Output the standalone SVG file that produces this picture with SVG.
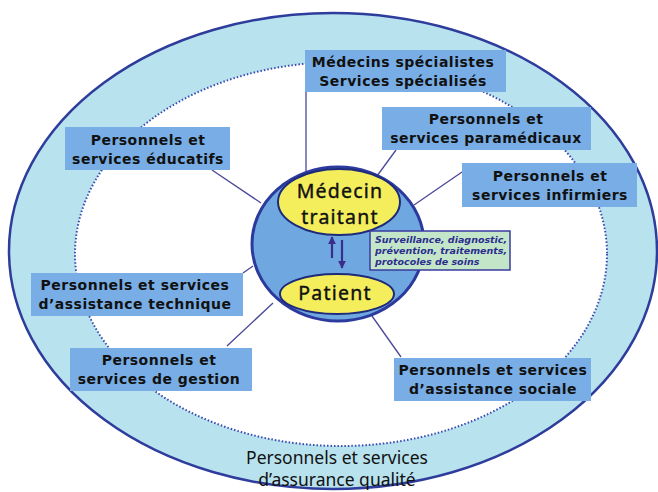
<svg xmlns="http://www.w3.org/2000/svg" width="658" height="492" viewBox="0 0 658 492">
<defs>
<style>
.box{fill:#78aee5;}
.bt{font-family:"DejaVu Sans",Verdana,sans-serif;font-weight:bold;font-size:14px;letter-spacing:0.5px;fill:#111;text-anchor:middle;}
.con{stroke:#4a4898;stroke-width:1.3;fill:none;}
.big{font-family:"Noto Sans","Open Sans",sans-serif;font-size:19.5px;letter-spacing:1.2px;fill:#111;stroke:#111;stroke-width:0.4px;text-anchor:middle;}
.gt{font-family:"DejaVu Sans",Verdana,sans-serif;font-weight:bold;font-style:italic;font-size:9.5px;fill:#2b2e8e;}
.arr{stroke:#3b2d8c;stroke-width:2.2;fill:none;}
</style>
<marker id="ah" viewBox="0 0 10 10" refX="9" refY="5" markerWidth="3.6" markerHeight="3.6" orient="auto" markerUnits="strokeWidth">
<path d="M0,0 L10,5 L0,10 Z" fill="#3b2d8c"/>
</marker>
</defs>
<rect width="658" height="492" fill="#ffffff"/>
<g id="quality-ring">
<ellipse cx="333" cy="251" rx="324" ry="238" fill="#b8e2ee" stroke="#2e3c9c" stroke-width="2.5"/>
<ellipse cx="341" cy="254" rx="266" ry="192" fill="#ffffff" stroke="#3a4ab0" stroke-width="2" stroke-dasharray="1.5 2"/>
<text x="337" y="464" font-family="'Noto Sans','Open Sans',sans-serif" font-size="17.5" fill="#111" text-anchor="middle">Personnels et services</text>
<text x="337" y="486" font-family="'Noto Sans','Open Sans',sans-serif" font-size="17.5" fill="#111" text-anchor="middle">d’assurance qualité</text>
</g>
<g id="connectors">
<line class="con" x1="306" y1="92" x2="306" y2="172"/>
<line class="con" x1="212" y1="170" x2="261" y2="203"/>
<line class="con" x1="396" y1="150" x2="377" y2="176"/>
<line class="con" x1="462" y1="172" x2="414" y2="205"/>
<line class="con" x1="243" y1="273" x2="253" y2="266"/>
<line class="con" x1="227" y1="346" x2="273" y2="303"/>
<line class="con" x1="372" y1="316" x2="401" y2="357"/>
</g>
<g id="center">
<ellipse cx="338" cy="244" rx="86" ry="77" fill="#6fa8e0" stroke="#2c3a9e" stroke-width="3"/>
</g>
<g id="medecin-traitant">
<ellipse cx="339" cy="202" rx="61" ry="33" fill="#f4ee5c" stroke="#1e2a7a" stroke-width="2"/>
<text class="big" x="340" y="198">Médecin</text>
<text class="big" x="340" y="224">traitant</text>
</g>
<g id="patient">
<ellipse cx="337" cy="294" rx="57" ry="20" fill="#f4ee5c" stroke="#1e2a7a" stroke-width="2"/>
<text class="big" x="335" y="300" font-size="21" letter-spacing="1.5">Patient</text>
</g>
<g id="relation-arrows">
<line class="arr" x1="332" y1="258" x2="332" y2="237" marker-end="url(#ah)"/>
<line class="arr" x1="342" y1="240" x2="342" y2="268" marker-end="url(#ah)"/>
</g>
<g id="roles-note">
<rect x="370" y="231" width="140" height="39" fill="#c4e6c8" stroke="#3a3aa0" stroke-width="1.5"/>
<text class="gt" x="375" y="243">Surveillance, diagnostic,</text>
<text class="gt" x="375" y="254">prévention, traitements,</text>
<text class="gt" x="375" y="265">protocoles de soins</text>
</g>
<g id="specialistes">
<rect class="box" x="305" y="50" width="201" height="42"/>
<text class="bt" x="403" y="67">Médecins spécialistes</text>
<text class="bt" x="403" y="86">Services spécialisés</text>
</g>
<g id="paramedicaux">
<rect class="box" x="382" y="107" width="209" height="43"/>
<text class="bt" x="486" y="124">Personnels et</text>
<text class="bt" x="486" y="143">services paramédicaux</text>
</g>
<g id="infirmiers">
<rect class="box" x="462" y="163" width="175" height="44"/>
<text class="bt" x="550" y="181">Personnels et</text>
<text class="bt" x="550" y="200">services infirmiers</text>
</g>
<g id="educatifs">
<rect class="box" x="65" y="127" width="165" height="43"/>
<text class="bt" x="148" y="145">Personnels et</text>
<text class="bt" x="148" y="164">services éducatifs</text>
</g>
<g id="assistance-technique">
<rect class="box" x="31" y="273" width="212" height="43"/>
<text class="bt" x="135" y="290">Personnels et services</text>
<text class="bt" x="135" y="309">d’assistance technique</text>
</g>
<g id="gestion">
<rect class="box" x="70" y="348" width="182" height="43"/>
<text class="bt" x="159" y="365">Personnels et</text>
<text class="bt" x="159" y="384">services de gestion</text>
</g>
<g id="assistance-sociale">
<rect class="box" x="394" y="358" width="197" height="43"/>
<text class="bt" x="493" y="375">Personnels et services</text>
<text class="bt" x="493" y="394">d’assistance sociale</text>
</g>
</svg>
